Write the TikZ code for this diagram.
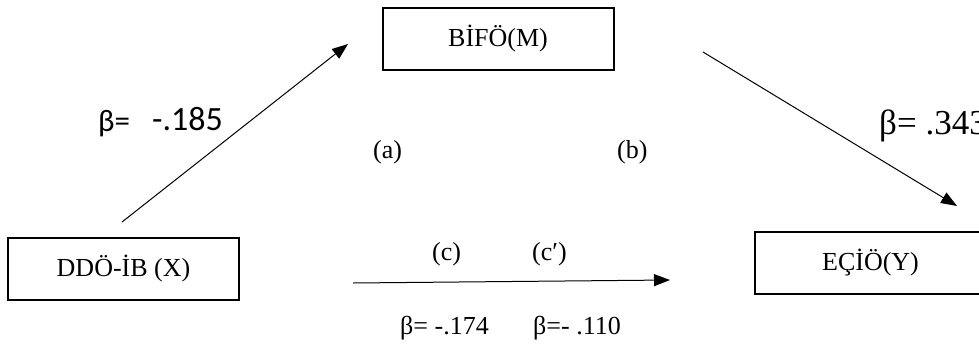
\documentclass[tikz,border=0pt]{standalone}
\usepackage{fontspec}
\setmainfont{Liberation Serif}
\newfontfamily\calfont{Carlito}
\usepackage{tikz}
\usetikzlibrary{arrows.meta,positioning}

\begin{document}
\begin{tikzpicture}[x=1pt, y=-1pt,
  font=\fontsize{26}{30}\selectfont,
  box/.style={draw, line width=2pt, inner sep=0pt,
              minimum width=231pt, minimum height=62pt},
  lab/.style={inner sep=0pt, anchor=base west},
  arr/.style={-{Triangle[length=16pt,width=12pt]}, line width=1pt}]
\useasboundingbox (0,0) rectangle (979,351);
\node[box] (m) at (498,39) {BİFÖ(M)};
\node[box] (x) at (123.5,268.5) {DDÖ-İB (X)};
\node[box] (y) at (870.5,262.5) {EÇİÖ(Y)};
% arrow ends
\coordinate (a0) at (122,222); \coordinate (a1) at (348,44);
\coordinate (b0) at (703,52);  \coordinate (b1) at (957,206);
\coordinate (c0) at (353,283); \coordinate (c1) at (670,280);
\foreach \s/\t in {a0/a1,b0/b1,c0/c1} \draw[arr] (\s) -- (\t);
% labels
\node[lab, font=\calfont\fontsize{31}{34}\selectfont] (ba) at (98,131) {β=};
\node[lab, font=\calfont\fontsize{34}{37}\selectfont] (va) at (152,130) {-.185};
\node[lab, font=\fontsize{35}{38}\selectfont] (bb) at (879,134) {β= .343};
\node[lab] (la) at (373,158) {(a)};
\node[lab] (lb) at (617,158) {(b)};
\node[lab] (lc) at (432,260) {(c)};
\node[lab] (ld) at (532,260) {(c′)};
\node[lab] (bc) at (400,334) {β= -.174};
\node[lab] (bd) at (533,334) {β=- .110};
\end{tikzpicture}
\end{document}
